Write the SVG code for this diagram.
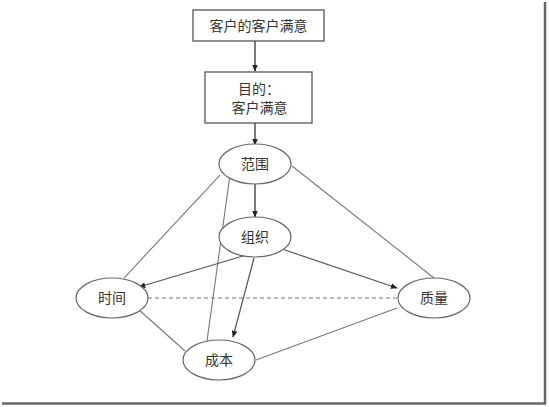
<svg xmlns="http://www.w3.org/2000/svg" width="549" height="407" viewBox="0 0 549 407">
<defs>
<style>
.box{fill:#fff;stroke:#555;stroke-width:1.3}
.ell{fill:#fff;stroke:#666;stroke-width:1.2}
.t{font-family:"Liberation Sans","Noto Sans CJK SC",sans-serif;font-size:14px;fill:#333;text-anchor:middle}
.ln{stroke:#777;stroke-width:1.1;fill:none}
.ar{stroke:#333;stroke-width:1.3;fill:none;marker-end:url(#ah)}
.ar2{stroke:#555;stroke-width:1.2;fill:none;marker-end:url(#ah)}
.ds{stroke:#777;stroke-width:1.2;stroke-dasharray:4,3;fill:none}
</style>
<marker id="ah" viewBox="0 0 10 10" refX="9" refY="5" markerWidth="7" markerHeight="7" orient="auto" markerUnits="userSpaceOnUse">
<path d="M0,1 L10,5 L0,9 Z" fill="#222"/>
</marker>
</defs>
<rect width="549" height="407" fill="#fff"/>
<g id="frame">
<line x1="545" y1="2" x2="545" y2="404" stroke="#666" stroke-width="2.5"/>
<line x1="2" y1="403.5" x2="546" y2="403.5" stroke="#666" stroke-width="2.5"/>
</g>
<g id="connectors">
<line class="ar" x1="255" y1="41" x2="255" y2="71"/>
<line class="ar" x1="255" y1="123" x2="255" y2="145"/>
<line class="ar" x1="255" y1="184" x2="255" y2="217"/>
<line class="ln" x1="220" y1="175" x2="124" y2="278"/>
<line class="ln" x1="292" y1="166" x2="434" y2="278"/>
<line class="ln" x1="230" y1="175" x2="207" y2="341"/>
<line class="ar2" x1="243" y1="256" x2="139" y2="287"/>
<line class="ar2" x1="254" y1="258" x2="233" y2="337"/>
<line class="ar2" x1="279" y1="248" x2="397" y2="288"/>
<line class="ds" x1="148" y1="298" x2="398" y2="298"/>
<line class="ln" x1="138" y1="309" x2="185" y2="351"/>
<line class="ln" x1="256" y1="360" x2="397" y2="308"/>
</g>
<g id="n1">
<rect class="box" x="193" y="10" width="131" height="31"/>
<text class="t" x="258.5" y="31">客户的客户满意</text>
</g>
<g id="n2">
<rect class="box" x="205" y="72" width="107" height="51"/>
<text class="t" x="238" y="94" text-anchor="start" style="text-anchor:start">目的：</text>
<text class="t" x="259.5" y="113">客户满意</text>
</g>
<g id="scope">
<ellipse class="ell" cx="255" cy="164" rx="36" ry="20"/>
<text class="t" x="255" y="169">范围</text>
</g>
<g id="org">
<ellipse class="ell" cx="255" cy="237" rx="36" ry="20"/>
<text class="t" x="255" y="242">组织</text>
</g>
<g id="time">
<ellipse class="ell" cx="112" cy="298" rx="36" ry="20"/>
<text class="t" x="112" y="303">时间</text>
</g>
<g id="quality">
<ellipse class="ell" cx="434" cy="298" rx="36" ry="20"/>
<text class="t" x="434" y="303">质量</text>
</g>
<g id="cost">
<ellipse class="ell" cx="219" cy="360" rx="36" ry="20"/>
<text class="t" x="219" y="365">成本</text>
</g>
</svg>
